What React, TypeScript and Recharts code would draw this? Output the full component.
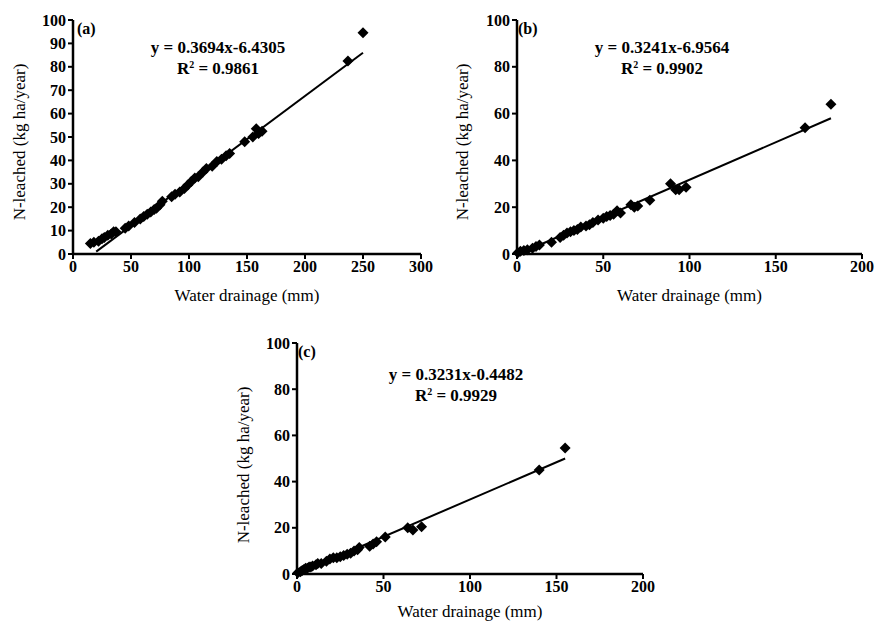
import React from "react"
import { ScatterChart, Scatter, XAxis, YAxis } from "recharts"

// panel (a)
const drainA = [15, 18, 22, 25, 27, 30, 33, 35, 37, 45, 48, 53, 58, 61, 64, 67, 70, 72, 75, 77, 85, 88, 92, 96, 99, 102, 105, 108, 112, 115, 120, 124, 128, 132, 135, 148, 155, 158, 160, 163, 237, 250]
const leachA = [4.5, 5, 5.5, 6.5, 7, 8, 8.5, 9.5, 9.5, 11, 12, 13.5, 15, 16, 17, 18, 19, 19.5, 21, 22.5, 24.5, 25.5, 26.5, 28, 29.5, 31, 32.5, 33, 35, 36.5, 37.5, 39.5, 40.5, 42, 43, 48, 50, 53.5, 51.5, 52.5, 82.5, 94.5]
const trendA = [{ x: 20, y: 1 }, { x: 250, y: 86 }]

// panel (b)
const drainB = [0.5, 2, 4, 6, 9, 11, 13, 20, 25, 27, 29, 31, 33, 35, 37, 40, 42, 44, 47, 50, 52, 54, 56, 58, 60, 66, 68, 70, 77, 89, 92, 94, 98, 167, 182]
const leachB = [0.5, 1.2, 1.5, 1.8, 2.5, 3.2, 3.8, 5, 7, 8, 9, 9.5, 10, 10.5, 11.5, 12, 12.5, 13.5, 14.5, 15.3, 16, 16.5, 17, 18.5, 17.5, 21, 20, 20.5, 23, 30, 27.5, 27.5, 28.5, 54, 64]
const trendB = [{ x: 1, y: 0 }, { x: 182, y: 58 }]

// panel (c)
const drainC = [0.5, 2, 3, 4, 5, 6, 7, 8, 9, 11, 12, 14, 17, 19, 21, 23, 25, 27, 29, 31, 33, 35, 36, 42, 44, 46, 51, 64, 67, 72, 140, 155]
const leachC = [0.5, 1, 1.5, 2, 2.5, 2.5, 3, 3, 3.5, 4, 4.5, 4.5, 5.5, 6.5, 7, 7, 7.5, 8, 8.5, 9, 10, 10.5, 11.5, 12, 13, 14, 16, 20, 19, 20.5, 45, 54.5]
const trendC = [{ x: 0, y: 0 }, { x: 155, y: 50 }]

const xTicksA = [0, 50, 100, 150, 200, 250, 300]
const yTicksA = [0, 10, 20, 30, 40, 50, 60, 70, 80, 90, 100]
const xTicksBC = [0, 50, 100, 150, 200]
const yTicksBC = [0, 20, 40, 60, 80, 100]

const toPoints = (xs: number[], ys: number[]) => xs.map((x, i) => ({ x, y: ys[i] }))

const FONT = "'Liberation Serif', 'Times New Roman', serif"
const tickStyle = { fill: "#000", fontSize: 16, fontWeight: "bold", fontFamily: FONT }
const titleStyle = { fill: "#000", fontSize: 17, fontFamily: FONT }

const Diamond = (props: any) => {
  const { cx, cy } = props
  const r = 5.5
  return <polygon points={`${cx},${cy - r} ${cx + r},${cy} ${cx},${cy + r} ${cx - r},${cy}`} fill="#000" />
}
const NoDot = () => <g />

type PanelProps = {
  left: number
  top: number
  width: number
  height: number
  margin: { top: number; right: number; left: number; bottom: number }
  yWidth: number
  xHeight: number
  xMax: number
  xTicks: number[]
  yTicks: number[]
  points: { x: number; y: number }[]
  trend: { x: number; y: number }[]
  yLabel: { x: number; y: number }
  xLabelOffset: number
  tag: string
  tagPos: { x: number; y: number }
  eq: string[]
  eqPos: { x: number; y: number }
}

function Panel(p: PanelProps) {
  const yTitle = () => (
    <text
      x={p.yLabel.x}
      y={p.yLabel.y}
      transform={`rotate(-90, ${p.yLabel.x}, ${p.yLabel.y})`}
      textAnchor="middle"
      dominantBaseline="central"
      fill="#000"
      fontSize={17}
      fontFamily={FONT}
    >
      N-leached (kg ha/year)
    </text>
  )
  return (
    <div style={{ position: "absolute", left: p.left, top: p.top, width: p.width, height: p.height }}>
      <ScatterChart width={p.width} height={p.height} margin={p.margin}>
        <XAxis
          type="number"
          dataKey="x"
          domain={[0, p.xMax]}
          ticks={p.xTicks}
          height={p.xHeight}
          tickSize={5}
          axisLine={{ stroke: "#000", strokeWidth: 2.5 }}
          tickLine={{ stroke: "#000", strokeWidth: 2 }}
          tick={tickStyle}
          label={{ value: "Water drainage (mm)", position: "insideBottom", offset: p.xLabelOffset, ...titleStyle }}
        />
        <YAxis
          type="number"
          dataKey="y"
          domain={[0, 100]}
          ticks={p.yTicks}
          width={p.yWidth}
          tickSize={5}
          axisLine={{ stroke: "#000", strokeWidth: 2.5 }}
          tickLine={{ stroke: "#000", strokeWidth: 2 }}
          tick={tickStyle}
          label={{ content: yTitle }}
        />
        <Scatter data={p.points} shape={<Diamond />} isAnimationActive={false} />
        <Scatter data={p.trend} line={{ stroke: "#000", strokeWidth: 2 }} shape={<NoDot />} isAnimationActive={false} />
      </ScatterChart>
      <div style={{ position: "absolute", left: p.tagPos.x, top: p.tagPos.y, font: `bold 16px ${FONT}`, lineHeight: "16px" }}>{p.tag}</div>
      <div
        style={{
          position: "absolute",
          left: p.eqPos.x,
          top: p.eqPos.y,
          transform: "translateX(-50%)",
          textAlign: "center",
          whiteSpace: "nowrap",
          font: `bold 17px ${FONT}`,
          lineHeight: "17px",
        }}
      >
        <div>{p.eq[0]}</div>
        <div>
          R<sup style={{ fontSize: 10, verticalAlign: "6px" }}>2</sup> = {p.eq[1]}
        </div>
      </div>
    </div>
  )
}

export default function App() {
  return (
    <div style={{ position: "absolute", left: 0, top: 0, width: 879, height: 626, background: "#fff", overflow: "hidden" }}>
      <Panel
        left={0}
        top={0}
        width={440}
        height={310}
        margin={{ top: 20, right: 19, left: 0, bottom: 0 }}
        yWidth={73}
        xHeight={56}
        xMax={300}
        xTicks={xTicksA}
        yTicks={yTicksA}
        points={toPoints(drainA, leachA)}
        trend={trendA}
        yLabel={{ x: 19, y: 142 }}
        xLabelOffset={9}
        tag="(a)"
        tagPos={{ x: 77, y: 21 }}
        eq={["y = 0.3694x-6.4305", "0.9861"]}
        eqPos={{ x: 218, y: 39 }}
      />
      <Panel
        left={440}
        top={0}
        width={439}
        height={310}
        margin={{ top: 20, right: 17, left: 0, bottom: 0 }}
        yWidth={77}
        xHeight={56}
        xMax={200}
        xTicks={xTicksBC}
        yTicks={yTicksBC}
        points={toPoints(drainB, leachB)}
        trend={trendB}
        yLabel={{ x: 22, y: 142 }}
        xLabelOffset={9}
        tag="(b)"
        tagPos={{ x: 78, y: 21 }}
        eq={["y = 0.3241x-6.9564", "0.9902"]}
        eqPos={{ x: 222, y: 39 }}
      />
      <Panel
        left={220}
        top={320}
        width={440}
        height={306}
        margin={{ top: 23, right: 17, left: 0, bottom: 0 }}
        yWidth={77}
        xHeight={52}
        xMax={200}
        xTicks={xTicksBC}
        yTicks={yTicksBC}
        points={toPoints(drainC, leachC)}
        trend={trendC}
        yLabel={{ x: 23, y: 145 }}
        xLabelOffset={9}
        tag="(c)"
        tagPos={{ x: 78, y: 24 }}
        eq={["y = 0.3231x-0.4482", "0.9929"]}
        eqPos={{ x: 236, y: 46 }}
      />
    </div>
  )
}
